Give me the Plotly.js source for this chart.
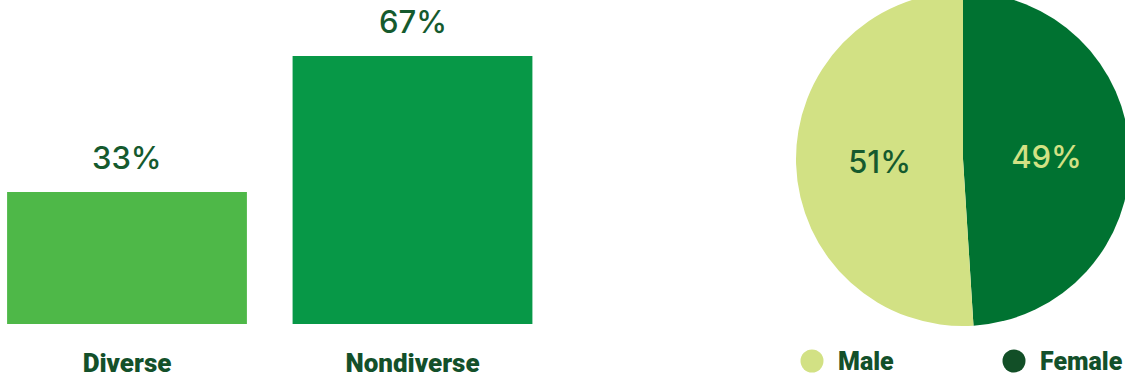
<!DOCTYPE html>
<html><head><meta charset="utf-8">
<script src="https://cdn.plot.ly/plotly-3.0.1.min.js"></script>
<style>
html,body{margin:0;padding:0;overflow:hidden;width:1125px;height:379px;background:#fff;}
#chart{position:absolute;left:0;top:-20px;width:1145px;height:420px;}
</style></head>
<body><div id="chart"></div>
<script>
// Data
const barCategories = ['Diverse', 'Nondiverse'];
const barValues = [33, 67];
const pieLabels = ['Female', 'Male'];
const pieValues = [49, 51];
const legendOrder = [1, 0];

// Styles
const W = 1145, H = 420;
const barColors = ['#4eb848', '#079847'];
const pieColors = ['#007231', '#d2e184'];
const pieTextColors = ['#d2e184', '#155a2e'];
const legendMarkerColors = ['#124f27', '#d2e184'];
const darkText = '#155a2e';
const numFont = 'Inter, "Open Sans", sans-serif';
const labelFont = 'Roboto, "Liberation Sans", sans-serif';

const fx = px => px / W;
const fy = py => 1 - py / H;

const barTrace = {
  type: 'bar', x: barCategories, y: barValues,
  marker: {color: barColors},
  hoverinfo: 'skip', showlegend: false,
  xaxis: 'x', yaxis: 'y'
};
const pieTrace = {
  type: 'pie', labels: pieLabels, values: pieValues,
  sort: false, direction: 'clockwise', rotation: 0,
  marker: {colors: pieColors},
  texttemplate: '%{value}%', textposition: 'inside',
  insidetextorientation: 'horizontal',
  textfont: {family: numFont, size: 31, color: pieTextColors, weight: 500},
  domain: {x: [fx(796), fx(1130)], y: [fy(346), fy(12)]},
  showlegend: false, hoverinfo: 'skip'
};

const catScale = 285.5, cat0 = 127, xEnd = 540;
const annotations = barValues.map((v, i) => ({
  x: barCategories[i], y: v, xref: 'x', yref: 'y',
  text: v + '%', showarrow: false, yanchor: 'bottom', yshift: 14,
  font: {family: numFont, size: 31, color: darkText, weight: 500}
}));

// legend
const legendX = [812, 1014];
const legendY = 381;
const shapes = legendOrder.map((idx, i) => ({
  type: 'circle', xref: 'paper', yref: 'paper',
  x0: fx(legendX[i] - 11.5), x1: fx(legendX[i] + 11.5),
  y0: fy(legendY + 11.5), y1: fy(legendY - 11.5),
  fillcolor: legendMarkerColors[idx], line: {width: 0}
}));
legendOrder.forEach((idx, i) => annotations.push({
  x: fx(legendX[i] + 24), y: fy(legendY), xref: 'paper', yref: 'paper',
  xanchor: 'left', yanchor: 'middle', showarrow: false, text: pieLabels[idx],
  font: {family: labelFont, size: 25, color: '#13502a', weight: 900}
}));

const layout = {
  width: W, height: H,
  margin: {l: 0, r: 0, t: 0, b: 0},
  paper_bgcolor: '#fff', plot_bgcolor: '#fff',
  bargap: 0.16,
  xaxis: {
    domain: [0, fx(xEnd)],
    range: [-cat0 / catScale, (xEnd - cat0) / catScale],
    showgrid: false, zeroline: false, showline: false, ticks: '',
    tickfont: {family: labelFont, size: 26, color: '#13502a', weight: 900},
    ticklabelstandoff: 21, fixedrange: true
  },
  yaxis: {
    domain: [fy(344), fy(24)], range: [0, 80],
    showgrid: false, zeroline: false, showline: false, showticklabels: false, ticks: '',
    fixedrange: true
  },
  annotations: annotations,
  shapes: shapes,
  showlegend: false
};
Plotly.newPlot('chart', [barTrace, pieTrace], layout, {staticPlot: true, displayModeBar: false});
</script></body></html>
